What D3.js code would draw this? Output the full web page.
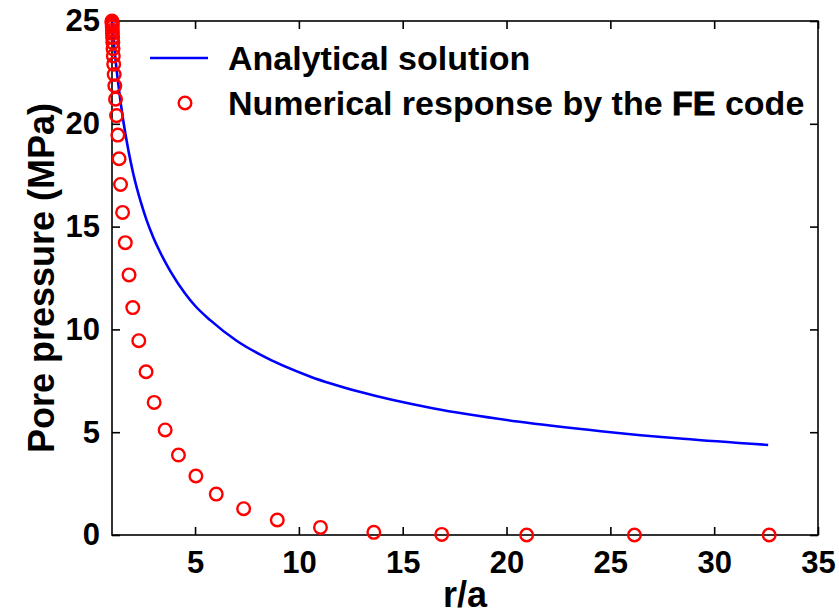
<!DOCTYPE html>
<html><head><meta charset="utf-8">
<script src="https://cdn.jsdelivr.net/npm/d3@7"></script>
<style>html,body{margin:0;padding:0;background:#fff;}svg{display:block;}</style>
</head><body>
<script>
// Analytical solution (r/a, pore pressure MPa)
const anaR = [1.0, 1.15, 1.3, 1.55, 1.8, 2.03, 2.4, 2.67, 3.0, 3.32, 3.8, 4.52, 5.0, 5.73, 7.0, 8.14, 10.56, 12.97, 16.5, 20.53, 24.55, 28.5, 32.6];
const anaP = [25.0, 23.3, 21.95, 20.1, 18.65, 17.55, 16.15, 15.3, 14.45, 13.75, 12.85, 11.75, 11.15, 10.45, 9.45, 8.77, 7.7, 6.95, 6.15, 5.52, 5.05, 4.68, 4.38];
// Numerical response by the FE code
const numR = [1.0, 1.003, 1.006, 1.009, 1.013, 1.018, 1.023, 1.03, 1.039, 1.05, 1.064, 1.082, 1.105, 1.135, 1.17, 1.22, 1.28, 1.34, 1.41, 1.51, 1.64, 1.82, 2.0, 2.29, 2.64, 3.03, 3.56, 4.2, 5.04, 6.02, 7.34, 8.96, 11.04, 13.61, 16.88, 20.97, 26.16, 32.65];
const numP = [25.0, 24.95, 24.9, 24.8, 24.7, 24.55, 24.4, 24.2, 23.95, 23.65, 23.3, 22.9, 22.4, 21.85, 21.2, 20.4, 19.45, 18.3, 17.05, 15.69, 14.22, 12.65, 11.06, 9.45, 7.94, 6.45, 5.11, 3.89, 2.87, 1.99, 1.28, 0.73, 0.37, 0.13, 0.03, 0.0, 0.0, 0.0];
const xTicks = [5, 10, 15, 20, 25, 30, 35];
const yTicks = [0, 5, 10, 15, 20, 25];
const seriesNames = ["Analytical solution", "Numerical response by the ", "FE", " code"];

const W = 839, H = 615;
const L = 112, R = 818, T = 21, B = 535;
const svg = d3.select("body").append("svg").attr("width", W).attr("height", H);
svg.append("rect").attr("width", W).attr("height", H).attr("fill", "#fff");

const x = d3.scaleLinear().domain([1, 35]).range([L, R]);
const y = d3.scaleLinear().domain([0, 25]).range([B, T]);
const font = "'Liberation Sans', Arial, sans-serif";
const tl = 8;

// axes box
const g = svg.append("g");
g.append("rect").attr("x", L).attr("y", T).attr("width", R - L).attr("height", B - T)
  .attr("fill", "none").attr("stroke", "#000").attr("stroke-width", 1.6);

// bottom/top ticks
const xAxisB = d3.axisBottom(x).tickValues(xTicks).tickSizeInner(-tl).tickSizeOuter(0).tickPadding(16).tickFormat(d3.format("d"));
const gx = svg.append("g").attr("transform", `translate(0,${B})`).call(xAxisB);
gx.select(".domain").remove();
gx.selectAll("line").attr("stroke", "#000").attr("stroke-width", 1.6);
gx.selectAll("text").attr("font-family", font).attr("font-weight", "bold").attr("font-size", 31).attr("fill", "#000");
const xAxisT = d3.axisTop(x).tickValues(xTicks).tickSizeInner(-tl).tickSizeOuter(0).tickFormat("");
const gxt = svg.append("g").attr("transform", `translate(0,${T})`).call(xAxisT);
gxt.select(".domain").remove();
gxt.selectAll("line").attr("stroke", "#000").attr("stroke-width", 1.6);

const yAxisL = d3.axisLeft(y).tickValues(yTicks).tickSizeInner(-tl).tickSizeOuter(0).tickPadding(12).tickFormat(d3.format("d"));
const gy = svg.append("g").attr("transform", `translate(${L},0)`).call(yAxisL);
gy.select(".domain").remove();
gy.selectAll("line").attr("stroke", "#000").attr("stroke-width", 1.6);
gy.selectAll("text").attr("font-family", font).attr("font-weight", "bold").attr("font-size", 31).attr("fill", "#000");
const yAxisR = d3.axisRight(y).tickValues(yTicks).tickSizeInner(-tl).tickSizeOuter(0).tickFormat("");
const gyr = svg.append("g").attr("transform", `translate(${R},0)`).call(yAxisR);
gyr.select(".domain").remove();
gyr.selectAll("line").attr("stroke", "#000").attr("stroke-width", 1.6);

// axis labels
svg.append("text").attr("x", (L + R) / 2).attr("y", 607).attr("text-anchor", "middle")
  .attr("font-family", font).attr("font-weight", "bold").attr("font-size", 36).text("r/a");
svg.append("text").attr("transform", `translate(54,${(T + B) / 2}) rotate(-90)`).attr("text-anchor", "middle")
  .attr("font-family", font).attr("font-weight", "bold").attr("font-size", 36).text("Pore pressure (MPa)");

// analytical line
const ana = anaR.map((r, i) => [r, anaP[i]]);
svg.append("path").datum(ana)
  .attr("d", d3.line().x(d => x(d[0])).y(d => y(d[1])).curve(d3.curveMonotoneX))
  .attr("fill", "none").attr("stroke", "#0000ff").attr("stroke-width", 2.6);

// numerical circles
const num = numR.map((r, i) => [r, numP[i]]);
svg.append("g").selectAll("circle").data(num).join("circle")
  .attr("cx", d => x(d[0])).attr("cy", d => y(d[1])).attr("r", 6.3)
  .attr("fill", "none").attr("stroke", "#ff0000").attr("stroke-width", 2.4);

// legend
const lg = svg.append("g");
lg.append("line").attr("x1", 150).attr("x2", 208).attr("y1", 58).attr("y2", 58)
  .attr("stroke", "#0000ff").attr("stroke-width", 2.6);
lg.append("text").attr("x", 228).attr("y", 70).attr("font-family", font).attr("font-weight", "bold")
  .attr("font-size", 34).text(seriesNames[0]);
lg.append("circle").attr("cx", 185).attr("cy", 103).attr("r", 6.3)
  .attr("fill", "none").attr("stroke", "#ff0000").attr("stroke-width", 2.4);
const t2 = lg.append("text").attr("x", 228).attr("y", 115).attr("font-family", font).attr("font-weight", "bold")
  .attr("font-size", 34);
t2.append("tspan").text(seriesNames[1]);
t2.append("tspan").attr("stroke", "#000").attr("stroke-width", 0.8).text(seriesNames[2]);
t2.append("tspan").text(seriesNames[3]);
</script>
</body></html>
